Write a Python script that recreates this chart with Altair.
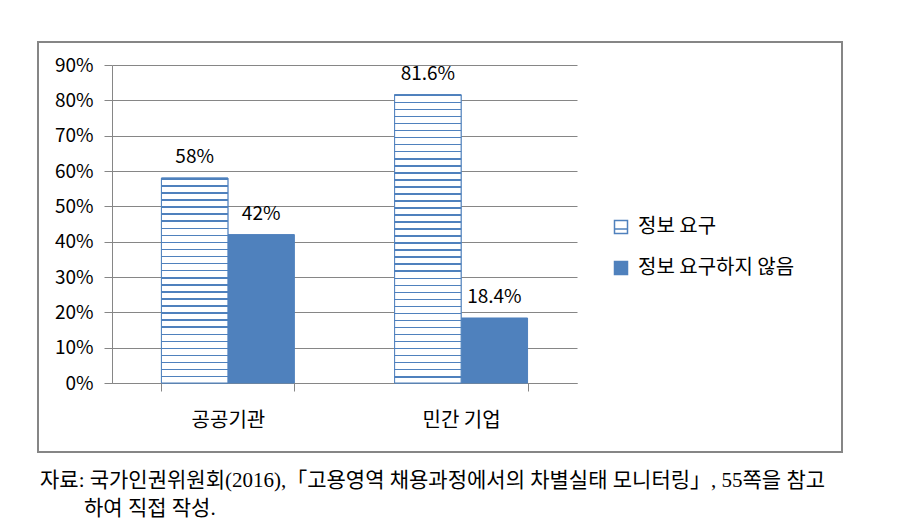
import altair as alt
import pandas as pd

categories = ["공공기관", "공공기관", "민간 기업", "민간 기업"]
series = ["정보 요구", "정보 요구하지 않음", "정보 요구", "정보 요구하지 않음"]
values = [0.58, 0.42, 0.816, 0.184]

cat_order = ["공공기관", "민간 기업"]
series_order = ["정보 요구", "정보 요구하지 않음"]
y_ticks = [0, 0.1, 0.2, 0.3, 0.4, 0.5, 0.6, 0.7, 0.8, 0.9]

note_line1 = "자료: 국가인권위원회(2016),「고용영역 채용과정에서의 차별실태 모니터링」, 55쪽을 참고"
note_line2 = "하여 직접 작성."

BLUE = "#4F81BD"
GRAY = "#868686"
FONT = "Noto Sans CJK KR"

df = pd.DataFrame({"category": categories, "series": series, "value": values})

x_enc = alt.X("category:N", sort=cat_order,
              scale=alt.Scale(paddingInner=0.43, paddingOuter=0.212),
              axis=alt.Axis(title=None, labelFontSize=20, labelColor="black",
                            labelFont=FONT, labelAngle=0, tickBand="extent",
                            tickSize=8, tickColor=GRAY, domainColor=GRAY,
                            labelPadding=19))
xo_enc = alt.XOffset("series:N", scale=alt.Scale(domain=series_order))
y_enc = alt.Y("value:Q", scale=alt.Scale(domain=[0, 0.9], nice=False),
              axis=alt.Axis(title=None, values=y_ticks, format=".0%",
                            labelFontSize=19, labelColor="black", labelFont=FONT,
                            grid=True, gridColor=GRAY, domainColor=GRAY,
                            tickColor=GRAY, tickSize=8, labelPadding=11))

base = alt.Chart(df)

bars = base.mark_bar(stroke=BLUE, strokeWidth=1).encode(
    x=x_enc, xOffset=xo_enc, y=y_enc,
    fill=alt.Fill("series:N",
                  scale=alt.Scale(domain=series_order, range=["white", BLUE]),
                  legend=alt.Legend(title=None, orient="none", legendX=499,
                                    legendY=152,
                                    symbolType="M-1,-1H1V1H-1Z M-1,0.3H1",
                                    symbolSize=169, symbolStrokeColor=BLUE,
                                    symbolStrokeWidth=1.5,
                                    labelFontSize=20, labelFont=FONT,
                                    labelColor="black", labelLimit=400,
                                    rowPadding=21, labelOffset=7)),
)

hatch_layers = []
for cat in cat_order:
    v = df[(df.category == cat) & (df.series == series_order[0])].value.iloc[0]
    n = int(round(v / 0.02))
    stops = []
    for i in range(n):
        a = i / n
        b = (i + 0.22) / n
        c = (i + 1) / n
        stops += [alt.GradientStop(offset=a, color=BLUE),
                  alt.GradientStop(offset=b, color=BLUE),
                  alt.GradientStop(offset=b, color="white"),
                  alt.GradientStop(offset=c, color="white")]
    grad = alt.Gradient(gradient="linear", stops=stops, x1=0, x2=0, y1=0, y2=1)
    hatch_layers.append(
        base.transform_filter(
            (alt.datum.category == cat) & (alt.datum.series == series_order[0])
        ).mark_bar(fill=grad, stroke=BLUE, strokeWidth=1).encode(
            x=x_enc, xOffset=xo_enc, y=y_enc)
    )

labels = base.mark_text(dy=-21, fontSize=19, font=FONT, color="black",
                        baseline="middle").encode(
    x=x_enc, xOffset=xo_enc, y=y_enc,
    text=alt.Text("value:Q", format=".1~%"))

one = alt.Data(values=[{}])
frame = alt.Chart(one).mark_rect(fill=None, stroke=GRAY, strokeWidth=2).encode(
    x=alt.value(-74), x2=alt.value(730), y=alt.value(-23), y2=alt.value(387))

note_font = "Liberation Serif, Noto Sans CJK KR"
note1 = alt.Chart(one).mark_text(align="left", baseline="middle", fontSize=21,
                                 font=note_font, color="black").encode(
    x=alt.value(-72), y=alt.value(416), text=alt.value(note_line1))
note2 = alt.Chart(one).mark_text(align="left", baseline="middle", fontSize=21,
                                 font=note_font, color="black").encode(
    x=alt.value(-28), y=alt.value(444), text=alt.value(note_line2))

chart = alt.layer(bars, *hatch_layers, labels, frame, note1, note2).properties(
    width=465, height=318,
    padding={"left": 112, "top": 65, "right": 325, "bottom": 145},
    autosize=alt.AutoSizeParams(type="none"),
    background="white",
).configure_view(stroke=None)

chart.save("out.html", embed_options={"renderer": "svg", "actions": False})
